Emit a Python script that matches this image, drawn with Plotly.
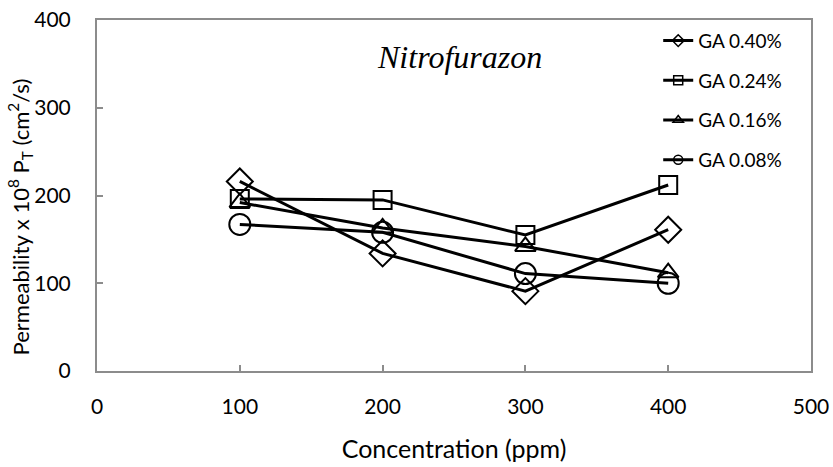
import plotly.graph_objects as go

# Concentration levels (ppm)
concentration = [100, 200, 300, 400]

# Permeability x 10^8 P_T (cm^2/s) for each glutaraldehyde level
ga_040 = [216, 134, 91, 161]
ga_024 = [196, 195, 155, 212]
ga_016 = [192, 163, 142, 112]
ga_008 = [167, 158, 111, 100]

series_names = ["GA 0.40%", "GA 0.24%", "GA 0.16%", "GA 0.08%"]
series_values = [ga_040, ga_024, ga_016, ga_008]
symbols = ["diamond-open", "square-open", "triangle-up-open", "circle-open"]
sizes = [20, 18, 18, 21]

x_ticks = [0, 100, 200, 300, 400, 500]
y_ticks = [0, 100, 200, 300, 400]

font_family = "Lato, 'Open Sans', sans-serif"

fig = go.Figure()

for name, vals, sym, sz in zip(series_names, series_values, symbols, sizes):
    # plotted series (large markers)
    fig.add_trace(go.Scatter(
        x=concentration, y=vals, mode="lines+markers", name=name,
        legendgroup=name,
        line=dict(color="black", width=3),
        marker=dict(symbol=sym, size=sz, color="black",
                    line=dict(color="black", width=2)),
        showlegend=False,
    ))
    # legend entry with small marker
    fig.add_trace(go.Scatter(
        x=[None], y=[None], mode="lines+markers", name=name,
        legendgroup=name,
        line=dict(color="black", width=3),
        marker=dict(symbol=sym, size=9, color="black",
                    line=dict(color="black", width=1.5)),
        showlegend=True,
    ))

fig.update_layout(
    width=833, height=467,
    margin=dict(l=97, r=22, t=20, b=96),
    paper_bgcolor="white", plot_bgcolor="white",
    font=dict(family=font_family, size=21, color="black"),
    showlegend=True,
    legend=dict(
        x=0.786, y=0.995, xanchor="left", yanchor="top",
        bgcolor="rgba(0,0,0,0)", borderwidth=0,
        font=dict(family=font_family, size=19, color="black"),
        tracegroupgap=12, itemwidth=30,
    ),
    annotations=[
        dict(
            text="<i>Nitrofurazon</i>", xref="paper", yref="paper",
            x=0.508, y=0.895, xanchor="center", yanchor="middle",
            showarrow=False,
            font=dict(family="'Liberation Serif', 'Times New Roman', serif",
                      size=32, color="black"),
        ),
        # y-axis title, placed as a rotated annotation
        dict(
            text="Permeability x 10<sup>8</sup> P<sub>T</sub> (cm<sup>2</sup>/s)",
            xref="paper", yref="paper", x=-0.108, y=0.44,
            xanchor="center", yanchor="middle", textangle=-90,
            showarrow=False,
            font=dict(family=font_family, size=22, color="black"),
        ),
    ],
)

fig.update_xaxes(
    range=[0, 500], tickvals=x_ticks, ticktext=[str(v) for v in x_ticks],
    showgrid=False, zeroline=False, automargin=False,
    showline=True, linecolor="#8c8c8c", linewidth=2, mirror=True,
    ticks="inside", ticklen=6, tickcolor="#8c8c8c", tickwidth=1.5,
    ticklabelstandoff=16, ticklabeloverflow="allow",
    title=dict(text="Concentration (ppm)", standoff=23,
               font=dict(family=font_family, size=25)),
)

fig.update_yaxes(
    range=[0, 400], tickvals=y_ticks, ticktext=[str(v) for v in y_ticks],
    showgrid=False, zeroline=False, automargin=False,
    showline=True, linecolor="#8c8c8c", linewidth=2, mirror=True,
    ticks="inside", ticklen=6, tickcolor="#8c8c8c", tickwidth=1.5,
    ticklabelstandoff=20, ticklabeloverflow="allow",
)

fig.write_html("out.html")
